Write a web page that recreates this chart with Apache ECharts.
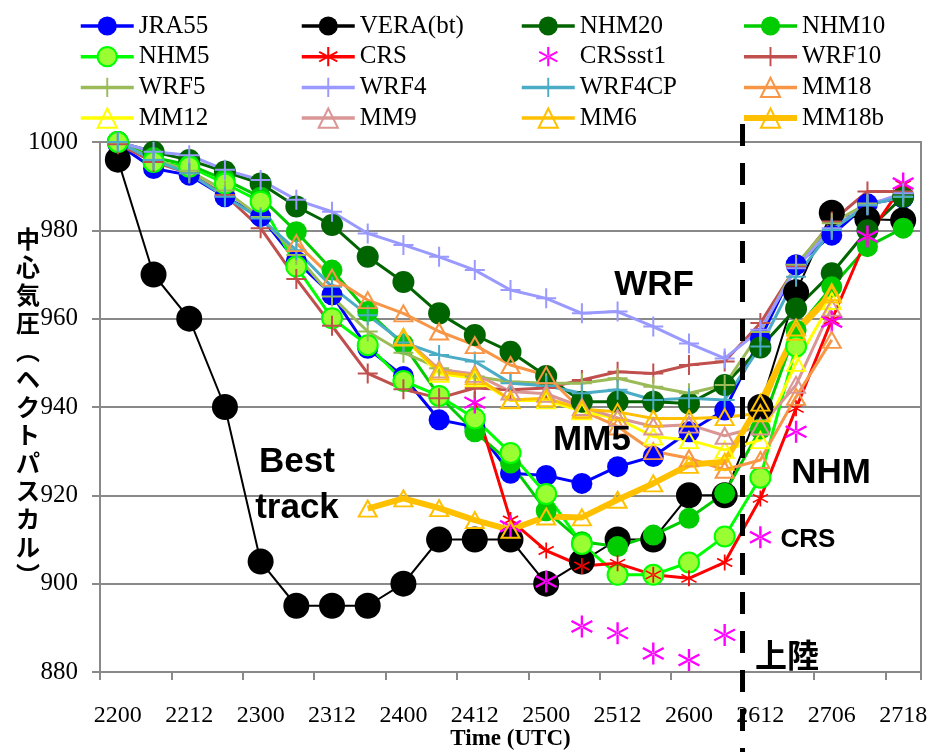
<!DOCTYPE html>
<html><head><meta charset="utf-8">
<script src="https://cdn.jsdelivr.net/npm/echarts@6/dist/echarts.min.js"></script>
<style>html,body{margin:0;padding:0;background:#fff}#c{width:932px;height:752px}</style>
</head><body><div id="c"></div>
<script>
// ---- data ----
const categories = ['2200','2206','2212','2218','2300','2306','2312','2318','2400','2406','2412','2418','2500','2506','2512','2518','2600','2606','2612','2700','2706','2712','2718'];
const landingBetween = ['2606','2612'];
const jra55  = [999.5,994,992.5,987.6,983.1,973,965.4,953.3,946.9,937.1,935.5,925,924.5,922.7,926.5,928.8,934.4,939.3,955.5,972.2,978.9,986,987.3];
const vera   = [996,970,960,940,905,895,895,895,900,910,910,910,900,905,910,910,920,920,940,966,984,982.5,982.3];
const nhm20  = [1000,997.8,995.9,993.3,990.6,985.4,981.2,974,968.3,961.2,956.3,952.5,947,941.2,941.2,941.2,940.8,945,953.5,962.3,970.3,980,987.6];
const nhm10  = [1000,996.5,994.8,991.5,987.5,979.7,971,961.6,954.2,942.5,934.4,927.3,916.5,909.5,908.4,911,914.8,920.5,935,957.4,967.2,976.3,980.5];
const nhm5   = [1000,995.5,994.4,990.6,986.5,971.8,960.1,954,945.9,942.5,937.4,929.6,920.3,909,902,902,904.8,910.7,924,953.7,null,null,null];
const crs    = [null,null,null,null,null,null,null,null,null,null,941,914.4,907.5,904,904.6,902,901.2,904.8,919.3,939.7,959.7,978.6,990.3];
const crssst1= [null,null,null,null,null,null,null,null,null,null,941,913,900.5,890.3,888.8,884.2,882.7,888.4,910.5,934.4,959.3,978.6,990.6];
const wrf10  = [999.5,995.5,992.9,988,980.5,969,958.4,947.6,944,942,944.3,943.9,944.3,946.1,948,947.6,949.5,950.3,959,971.8,982,988.8,988.8];
const wrf5   = [1000,996,993.5,989,983,974.4,965,957.1,952.3,948.8,946.9,945.7,945.4,945.4,946.5,944.6,943.1,945,957,972.2,981.6,986.1,987.6];
const wrf4   = [1000,997.8,997,993.7,991.4,986.9,984.2,979.3,976.7,974,971,966.5,964.6,961.2,961.6,958.2,954.4,951,957.5,971.4,980.5,985.7,988.4];
const wrf4cp = [1000,995.9,992.9,987.6,982.7,975.5,967.2,960.8,954.6,951.8,950.3,945.4,944.8,943.1,943.9,941.6,942,941.6,953.7,969.5,980.1,985.7,987.6];
const mm18   = [null,null,null,null,null,977.1,969.3,964.2,961.2,957.1,954,949.5,947.2,939.2,935.6,930,928.4,925.8,928,942.3,955.2,null,null];
const mm12   = [null,null,null,null,null,null,null,null,955.8,947.5,946.5,941.5,941.5,939,937.4,933.3,932.5,930.3,932.5,950,964,null,null];
const mm9    = [null,null,null,null,null,null,null,null,955.8,948.5,947.5,943.5,943,940,937.5,935.6,936,933.5,935.6,945,962.5,null,null];
const mm6    = [null,null,null,null,null,null,null,null,955.8,948,947,941.6,942,939.5,938.9,937.4,937.4,937.7,938.6,958,966,null,null];
const mm18b  = [null,null,null,null,null,null,null,917,919.3,917.1,914.4,912.2,915.2,915,919,922.7,926.9,927.6,941,957,965.5,null,null];
const yMin = 880, yMax = 1000, yStep = 20;
const yTitleChars = ['中','心','気','圧','︵','ヘ','ク','ト','パ','ス','カ','ル','︶'];

// ---- styles ----
const serif = "'Times New Roman','Liberation Serif',serif";
const sans = "Arial,'Liberation Sans',sans-serif";
const cjk = "'Noto Sans CJK JP',sans-serif";
const PLUS = 'path://M9,0h2v20h-2zM0,9h20v2h-20z';
const AST = 'path://M9,0h2v20h-2zM0.8,5.87L18.2,15.87L19.2,14.13L1.8,4.13zM1.8,15.87L19.2,5.87L18.2,4.13L0.8,14.13z';
const gray = '#898989';

const defs = [
  {name:'JRA55', data:jra55, c:'#0000FF', sym:'circle', size:21, w:3},
  {name:'VERA(bt)', data:vera, c:'#000000', sym:'circle', size:26, w:2},
  {name:'NHM20', data:nhm20, c:'#006400', sym:'circle', size:22, w:3},
  {name:'NHM10', data:nhm10, c:'#00CC00', sym:'circle', size:21, w:3},
  {name:'NHM5', data:nhm5, c:'#00FF00', fill:'#99FF33', sym:'circle', size:20, w:3, border:2},
  {name:'CRS', data:crs, c:'#FF0000', sym:AST, size:16, w:3},
  {name:'CRSsst1', data:crssst1, c:'#FF00FF', sym:AST, size:22, w:0},
  {name:'WRF10', data:wrf10, c:'#C0504D', sym:PLUS, size:20, w:3},
  {name:'WRF5', data:wrf5, c:'#9BBB59', sym:PLUS, size:20, w:3},
  {name:'WRF4', data:wrf4, c:'#9999FF', sym:PLUS, size:20, w:3},
  {name:'WRF4CP', data:wrf4cp, c:'#4BACC6', sym:PLUS, size:20, w:3},
  {name:'MM18', data:mm18, c:'#F79646', sym:'triangle', size:[18,16], w:3, hollow:true},
  {name:'MM12', data:mm12, c:'#FFFF00', sym:'triangle', size:[18,16], w:3, hollow:true},
  {name:'MM9', data:mm9, c:'#D99694', sym:'triangle', size:[18,16], w:3, hollow:true},
  {name:'MM6', data:mm6, c:'#FFC000', sym:'triangle', size:[18,16], w:3, hollow:true},
  {name:'MM18b', data:mm18b, c:'#FFC000', sym:'triangle', size:[18,16], w:6, hollow:true}
];

function itemStyleOf(d){
  if (d.hollow) return {color:'rgba(255,255,255,0)', borderColor:d.c, borderWidth:2};
  if (d.fill) return {color:d.fill, borderColor:d.c, borderWidth:d.border};
  return {color:d.c, borderWidth:0};
}

const series = defs.map(d => ({
  type:'line', name:d.name, data:d.data, color:d.c,
  symbol:d.sym, symbolSize:d.size, showAllSymbol:true,
  lineStyle: d.w ? {color:d.c, width:d.w} : {color:d.c, width:0, opacity:0},
  itemStyle: itemStyleOf(d),
  emphasis:{disabled:true}, animation:false
}));

const colLeft = [74, 295, 515, 736];
const legends = colLeft.map((left, col) => ({
  orient:'vertical', left:left, top:6, itemWidth:53, itemHeight:24, itemGap:0.7,
  selectedMode:false,
  textStyle:{fontFamily:serif, fontSize:25, color:'#000', lineHeight:30},
  data: defs.filter((_, i) => i % 4 === col).map(d => ({
    name:d.name,
    itemStyle: itemStyleOf(d),
    lineStyle: d.w ? {color:d.c, width:Math.max(d.w, 3.5)} : {width:0, opacity:0}
  }))
}));

const chart = echarts.init(document.getElementById('c'));
chart.setOption({
  animation:false,
  backgroundColor:'#fff',
  grid:{left:100, right:11, top:142, bottom:80, show:true, borderColor:gray, borderWidth:2, containLabel:false, outerBoundsMode:'none'},
  legend: legends,
  xAxis:{
    type:'category', data:categories, boundaryGap:true,
    axisLine:{lineStyle:{color:gray, width:2}},
    axisTick:{show:true, interval:1, length:8, lineStyle:{color:gray, width:2}},
    axisLabel:{interval:1, color:'#000', fontFamily:serif, fontSize:24, margin:32},
    splitLine:{show:false},
    name:'Time (UTC)', nameLocation:'middle', nameGap:56, nameMoveOverlap:false,
    nameTextStyle:{fontFamily:serif, fontSize:23, fontWeight:'bold', color:'#000'}
  },
  yAxis:{
    type:'value', min:yMin, max:yMax, interval:yStep,
    axisLine:{show:true, lineStyle:{color:gray, width:2}},
    axisTick:{show:true, length:8, lineStyle:{color:gray, width:2}},
    axisLabel:{color:'#000', fontFamily:serif, fontSize:25, margin:22, formatter: v => String(v)},
    splitLine:{lineStyle:{color:gray, width:2}}
  },
  series: series
});

const xa = chart.convertToPixel({xAxisIndex:0}, landingBetween[0]);
const xb = chart.convertToPixel({xAxisIndex:0}, landingBetween[1]);
const xLand = (xa + xb) / 2;

function label(text, x, y, size, family){
  return {type:'text', x:x, y:y, z:50, style:{text:text, fontSize:size, fontWeight:'bold', fontFamily:family || sans, fill:'#000', align:'center', verticalAlign:'middle'}};
}

chart.setOption({
  graphic:[
    {type:'line', z:40, shape:{x1:xLand, y1:124, x2:xLand, y2:752}, style:{stroke:'#000', lineWidth:5, lineDash:[22,17]}},
    {type:'text', x:28, y:407, z:50, style:{text:yTitleChars.join('\n'), fontSize:24, fontWeight:'bold', fontFamily:cjk, fill:'#000', align:'center', verticalAlign:'middle', lineHeight:28}},
    label('WRF', 654, 285, 35),
    label('MM5', 592, 440, 35),
    {type:'text', x:297, y:485, z:50, style:{text:'Best\ntrack', fontSize:35, fontWeight:'bold', fontFamily:sans, fill:'#000', align:'center', verticalAlign:'middle', lineHeight:46}},
    label('NHM', 831, 473, 35),
    label('CRS', 808, 540, 26),
    label('上陸', 787, 655, 32, cjk)
  ]
});
</script></body></html>
